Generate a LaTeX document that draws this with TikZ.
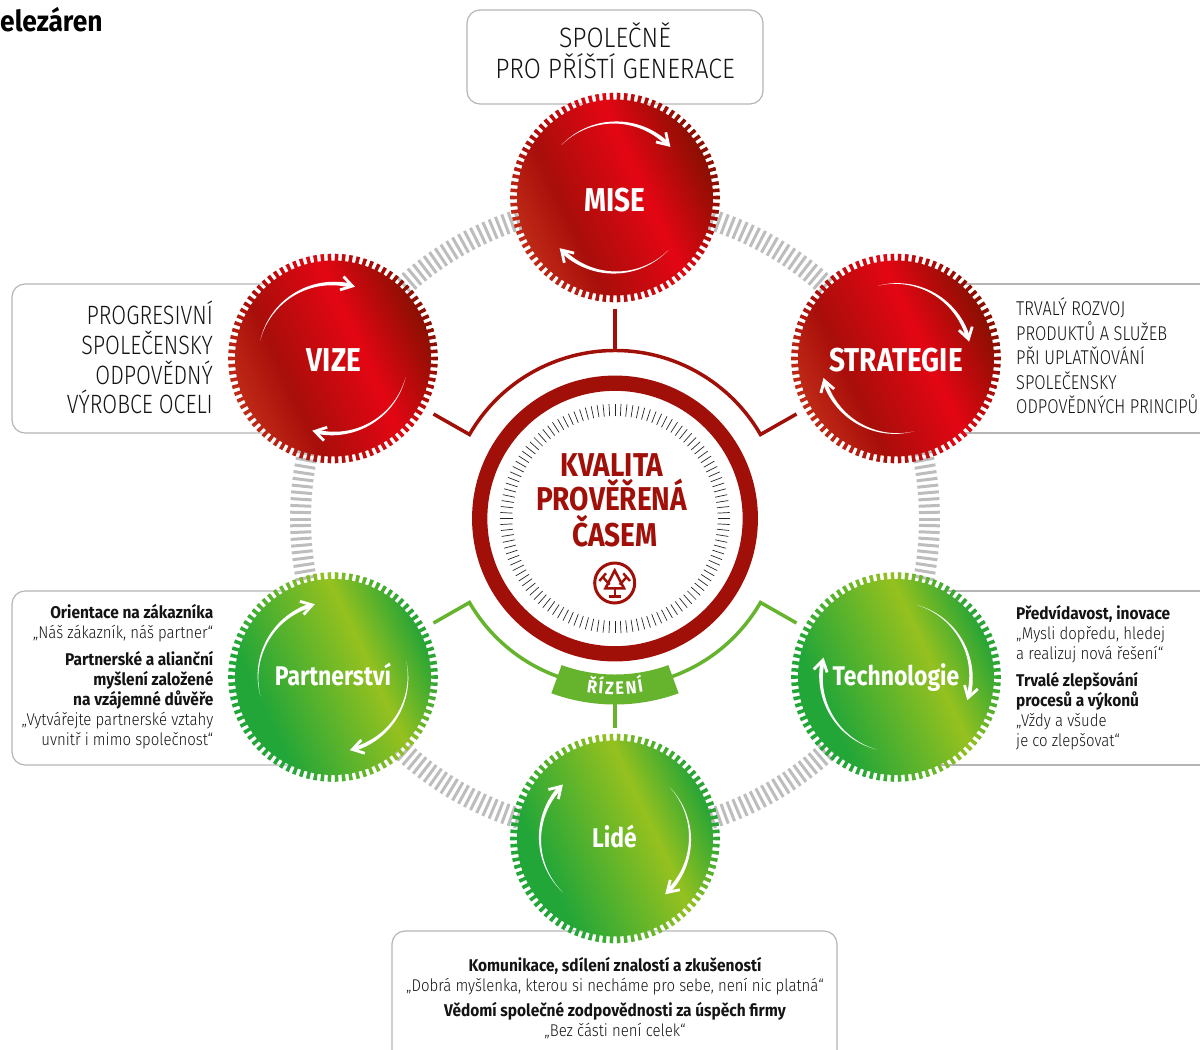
\documentclass[tikz,border=0pt]{standalone}
\usepackage{fontspec}
\usetikzlibrary{decorations.text}
\setmainfont{Fira Sans}
\newfontfamily\fbig[FakeStretch=.85]{Fira Sans Bold}
\newfontfamily\fbold[FakeStretch=.91]{Fira Sans Bold}
\newfontfamily\ftop[FakeStretch=.885]{Fira Sans Light}
\newfontfamily\flight[FakeStretch=.81]{Fira Sans Light}
\newfontfamily\fstrat[FakeStretch=.82]{Fira Sans Light}
\newfontfamily\fsmall[FakeStretch=.88]{Fira Sans Light}
\definecolor{rA}{HTML}{C9361C}
\definecolor{rB}{HTML}{A80E0A}
\definecolor{rC}{HTML}{E30613}
\definecolor{rD}{HTML}{8C0F02}
\definecolor{gA}{HTML}{23A638}
\definecolor{gB}{HTML}{95C11F}
\definecolor{gC}{HTML}{2AA535}
\definecolor{ringred}{HTML}{A01008}
\definecolor{linegreen}{HTML}{66B32E}
\definecolor{boxline}{HTML}{B5B5B5}
\definecolor{tickgrey}{HTML}{BDBDBD}
\pgfdeclarehorizontalshading{redg}{100bp}{color(0bp)=(rA); color(21bp)=(rA); color(38bp)=(rB); color(57bp)=(rC); color(73bp)=(rD); color(100bp)=(rD)}
\pgfdeclarehorizontalshading{greeng}{100bp}{color(0bp)=(gA); color(32bp)=(gA); color(59bp)=(gB); color(73bp)=(gC); color(100bp)=(gC)}
\tikzset{
  boxstyle/.style={draw=boxline,line width=1.2pt,rounded corners=13pt},
  redline/.style={draw=ringred,line width=3.5pt},
  greenline/.style={draw=linegreen,line width=3.5pt},
  biglabel/.style={text=white,inner sep=0pt,anchor=base},
  lighttext/.style={inner sep=0pt,text=black!92},
}
\newcommand{\gearwheel}[3]{%
  \begin{scope}[shift={(#1,#2)},y=1pt]
    \shade[shading=#3,shading angle=25] (0:98)
      \foreach \a in {0,4,...,356}{ -- ({\a-1}:98) -- ({\a-1}:104.8) -- ({\a+1}:104.8) -- ({\a+1}:98)} -- cycle;
  \end{scope}}
\newcommand{\swoosh}[5]{%
  \begin{scope}[shift={(#1,#2)},y=1pt]
    \fill[white] plot[domain=0:.98,samples=30,variable=\t] ({#3+(#4-#3)*\t}:{#5+2.1*\t})
      -- plot[domain=.98:0,samples=30,variable=\t] ({#3+(#4-#3)*\t}:{#5-2.1*\t}) -- cycle;
    \draw[white,line width=2.8pt,miter limit=6]
      ([shift={({#4+90+32}:13)}]#4:#5) -- (#4:#5) -- ([shift={({#4+90-32}:13)}]#4:#5);
  \end{scope}}
\begin{document}
\begin{tikzpicture}[x=1pt,y=-1pt]
\useasboundingbox (0,0) rectangle (1200,1050);
% grey ring
\begin{scope}[shift={(615,519)},y=1pt]
  \foreach \a in {0,1.2,...,359}{\draw[tickgrey,line width=3pt] (\a:304) -- (\a:325);}
\end{scope}
% boxes
\node[boxstyle,minimum width=296pt,minimum height=94pt,inner sep=0pt] (topbox) at (615,57) {};
\draw[boxstyle] (300,284) -- (12,284) -- (12,433) -- (300,433);
\draw[draw=boxline,line width=1.2pt] (900,284) -- (1200,284) (900,433) -- (1200,433);
\draw[boxstyle] (300,591) -- (12,591) -- (12,765) -- (300,765);
\draw[draw=boxline,line width=1.2pt] (900,591) -- (1200,591) (900,765) -- (1200,765);
\draw[boxstyle] (392,1052) -- (392,931) -- (837,931) -- (837,1052);
% centre
\coordinate (c) at (615,518.5);
\draw[ringred,line width=15.3pt] (c) circle[radius=135.3pt];
\begin{scope}[shift={(c)},y=1pt]
  \foreach \a in {0,3,...,357}{\draw[black!85,line width=.7pt] (\a:102.5) -- (\a:114.7);}
\end{scope}
% red connector
\coordinate (rl) at (433.5,414);
\coordinate (ra) at (469.5,434.5);
\coordinate (rr) at (796.5,414);
\coordinate (rt) at (615,350);
\coordinate (rs) at (615,309);
\draw[redline,line join=miter] (rl) -- (ra) arc[start angle=150,end angle=30,radius=168pt] -- (rr);
\draw[redline] (rs) -- (rt);
% green connector
\coordinate (gl) at (433.5,623);
\coordinate (ga) at (469.5,602.5);
\coordinate (gr) at (796.5,623);
\coordinate (gb) at (760.5,602.5);
\coordinate (gs) at (615,703);
\coordinate (ge) at (615,728);
\draw[greenline] (gl) -- (ga) arc[start angle=210,end angle=251,radius=168pt];
\draw[greenline] (gr) -- (gb) arc[start angle=-30,end angle=-71,radius=168pt];
\draw[greenline] (gs) -- (ge);
\begin{scope}[shift={(c)},y=1pt]
  \fill[linegreen] (250:156) arc[start angle=250,end angle=290,radius=156pt] -- (290:186) arc[start angle=290,end angle=250,radius=186pt] -- cycle;
  \path[decorate,decoration={text along path,text align={fit to path},text={|\fontsize{18}{18}\fbold\color{white}|ŘÍZENÍ}}]
    (260.6:176) arc[start angle=260.6,end angle=279.4,radius=176pt];
\end{scope}
% centre text
\node[inner sep=0pt,anchor=base,text=ringred,font=\fontsize{33}{33}\fbig] (kval1) at (612,476.7) {KVALITA};
\node[inner sep=0pt,anchor=base,text=ringred,font=\fontsize{33}{33}\fbig] (kval2) at (611.5,510.7) {PROVĚŘENÁ};
\node[inner sep=0pt,anchor=base,text=ringred,font=\fontsize{33}{33}\fbig] (kval3) at (615,546) {ČASEM};
% logo
\node[draw=ringred,line width=3pt,circle,minimum size=40pt,inner sep=0pt] (logo) at (614.7,583) {};
\coordinate (lapex) at (614.7,570.5);
\coordinate (lbl) at (605.5,588.3);
\coordinate (lbr) at (624,588.3);
\coordinate (lst) at (614.7,588.3);
\coordinate (lsb) at (614.7,596.5);
\draw[ringred,line width=2.6pt] (lapex) -- (lbl) -- (lbr) -- cycle;
\draw[ringred,line width=2.2pt] (lst) -- (lsb) (608.5,596.5) -- (621,596.5);
\draw[ringred,line width=2.4pt] (599.3,581) -- (606,573.3) (602.7,577) -- (609.7,584.7);
\draw[ringred,line width=2.4pt] (630,581) -- (623.3,573.3) (626.7,577) -- (619.7,584.7);
% wheels
\gearwheel{615}{197.5}{redg}
\gearwheel{333}{358.5}{redg}
\gearwheel{896}{358.5}{redg}
\gearwheel{333}{677}{greeng}
\gearwheel{896}{677}{greeng}
\gearwheel{615}{838.5}{greeng}
\swoosh{615}{197.5}{135.6}{44.4}{75}
\swoosh{615}{197.5}{-44.5}{-135.5}{75}
\swoosh{333}{358.5}{166}{75}{75}
\swoosh{333}{358.5}{-14.6}{-104}{75}
\swoosh{896}{358.5}{104}{15}{75}
\swoosh{896}{358.5}{-76}{-163}{75}
\swoosh{333}{677}{195}{106}{75}
\swoosh{333}{677}{12}{-75}{75}
\swoosh{896}{677}{73.5}{-16}{75}
\swoosh{896}{677}{-105}{-193}{75}
\swoosh{615}{838.5}{43}{-46}{75}
\swoosh{615}{838.5}{-134}{-224}{75}
\node[biglabel,font=\fontsize{33}{33}\fbig] (mise) at (615,211) {MISE};
\node[biglabel,font=\fontsize{33}{33}\fbig] (vize) at (334,371.7) {VIZE};
\node[biglabel,font=\fontsize{33}{33}\fbig] (strategie) at (896,371.3) {STRATEGIE};
\node[biglabel,font=\fontsize{27}{27}\fbig] (partnerstvi) at (333,685.7) {Partnerství};
\node[biglabel,font=\fontsize{27}{27}\fbig] (technologie) at (896,685.7) {Technologie};
\node[biglabel,font=\fontsize{27}{27}\fbig] (lide) at (614.5,847) {Lidé};
% texts
\node[inner sep=0pt,anchor=base west,font=\fontsize{29}{29}\fbold] (title) at (0,31) {elezáren};
\node[lighttext,align=center,anchor=base,font=\fontsize{28}{30}\ftop] (t1) at (615,47) {SPOLEČNĚ};
\node[lighttext,align=center,anchor=base,font=\fontsize{28}{30}\ftop] (t2) at (615,78) {PRO PŘÍŠTÍ GENERACE};
\node[lighttext,align=right,anchor=north east,font=\fontsize{26.5}{29.7}\flight] (vizetext) at (213,301) {PROGRESIVNÍ\\SPOLEČENSKY\\ODPOVĚDNÝ\\VÝROBCE OCELI};
\node[lighttext,align=left,anchor=north west,font=\fontsize{20}{24.5}\fstrat] (strattext) at (1016,298) {TRVALÝ ROZVOJ\\PRODUKTŮ A SLUŽEB\\PŘI UPLATŇOVÁNÍ\\SPOLEČENSKY\\ODPOVĚDNÝCH PRINCIPŮ};
\node[lighttext,align=right,anchor=north east,font=\fontsize{17}{20}\fsmall] (parttext) at (213.5,604.5)
  {{\fbold Orientace na zákazníka}\\„Náš zákazník, náš partner“\\[6.7pt]{\fbold Partnerské a alianční}\\{\fbold myšlení založené}\\{\fbold na vzájemné důvěře}\\„Vytvářejte partnerské vztahy\\uvnitř i mimo společnost“};
\node[lighttext,align=left,anchor=north west,font=\fontsize{17}{20}\fsmall] (techtext) at (1016,605.5)
  {{\fbold Předvídavost, inovace}\\„Mysli dopředu, hledej\\a realizuj nová řešení“\\[6.7pt]{\fbold Trvalé zlepšování}\\{\fbold procesů a výkonů}\\„Vždy a všude\\je co zlepšovat“};
\node[lighttext,align=center,anchor=north,font=\fontsize{17}{20}\fsmall] (lidetext) at (615,957.5)
  {{\fbold Komunikace, sdílení znalostí a zkušeností}\\„Dobrá myšlenka, kterou si necháme pro sebe, není nic platná“\\[4.5pt]{\fbold Vědomí společné zodpovědnosti za úspěch firmy}\\„Bez části není celek“};
\end{tikzpicture}
\end{document}
